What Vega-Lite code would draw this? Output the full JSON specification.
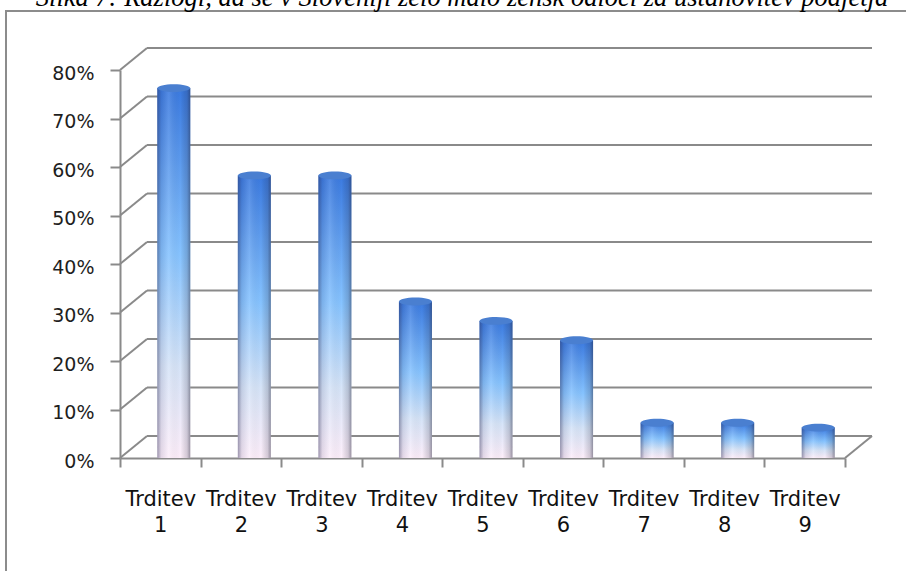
{
  "$schema": "https://vega.github.io/schema/vega-lite/v6.json",
  "autosize": "none",
  "width": 900,
  "height": 560,
  "padding": {"left": 6, "top": 11, "right": 0, "bottom": 0},
  "background": "white",
  "config": {
    "view": {"stroke": "#8c8c8c", "strokeWidth": 2, "strokeDash": [900, 1460, 560]},
    "axis": {"grid": false}
  },
  "title": {
    "text": "Slika 7: Razlogi, da se v Sloveniji zelo malo žensk odloči za ustanovitev podjetja",
    "font": "Liberation Serif",
    "fontStyle": "italic",
    "fontWeight": "normal",
    "fontSize": 26.5,
    "color": "#000000",
    "frame": "group",
    "anchor": "middle",
    "baseline": "alphabetic",
    "offset": -21,
    "dx": 6
  },
  "data": {
    "values": [
      {"c": "Trditev 1", "p": 0.74},
      {"c": "Trditev 2", "p": 0.56},
      {"c": "Trditev 3", "p": 0.56},
      {"c": "Trditev 4", "p": 0.30},
      {"c": "Trditev 5", "p": 0.26},
      {"c": "Trditev 6", "p": 0.22},
      {"c": "Trditev 7", "p": 0.05},
      {"c": "Trditev 8", "p": 0.05},
      {"c": "Trditev 9", "p": 0.04}
    ]
  },
  "resolve": {"scale": {"x": "independent"}, "axis": {"x": "independent"}},
  "layer": [
    {
      "data": {"values": [{"v": 0}, {"v": 0.1}, {"v": 0.2}, {"v": 0.3}, {"v": 0.4}, {"v": 0.5}, {"v": 0.6}, {"v": 0.7}, {"v": 0.8}]},
      "layer": [
        {
          "mark": {"type": "rule", "color": "#8a8a8a", "strokeWidth": 2.2, "xOffset": 27, "x2Offset": 27, "yOffset": -22},
          "encoding": {
            "x": {"datum": 0, "type": "quantitative", "scale": {"domain": [0, 1], "range": [114, 839], "nice": false, "zero": false}, "axis": null},
            "x2": {"datum": 1},
            "y": {"field": "v", "type": "quantitative", "scale": {"domain": [0, 0.8], "range": [447, 59], "nice": false, "zero": true}, "axis": {
              "orient": "left", "offset": -114, "values": [0, 0.1, 0.2, 0.3, 0.4, 0.5, 0.6, 0.7, 0.8], "format": ".0%", "title": null,
              "domainColor": "#8a8a8a", "domainWidth": 2, "tickColor": "#8a8a8a", "tickWidth": 2, "tickSize": 10,
              "labelFont": "DejaVu Sans", "labelFontSize": 19, "labelColor": "#1e1e1e", "labelPadding": 16, "labelOffset": 3
            }}
          }
        },
        {
          "mark": {"type": "rule", "color": "#8a8a8a", "strokeWidth": 2, "x2Offset": 27, "y2Offset": -22},
          "encoding": {
            "x": {"datum": 0, "type": "quantitative", "axis": null},
            "x2": {"datum": 0},
            "y": {"field": "v", "type": "quantitative"},
            "y2": {"field": "v"}
          }
        },
        {
          "transform": [{"filter": "datum.v == 0"}],
          "mark": {"type": "rule", "color": "#8a8a8a", "strokeWidth": 2, "x2Offset": 27, "y2Offset": -22},
          "encoding": {
            "x": {"datum": 1, "type": "quantitative", "axis": null},
            "x2": {"datum": 1},
            "y": {"field": "v", "type": "quantitative"},
            "y2": {"field": "v"}
          }
        }
      ]
    },
    {
      "layer": [
        {
          "mark": {"type": "point", "shape": "M-1,0A1,0.24,0,1,1,1,0A1,0.24,0,1,1,-1,0Z", "size": 1089, "filled": true, "fill": "#eadbe9", "opacity": 1, "strokeWidth": 0, "xOffset": 13.5, "yOffset": -11},
          "encoding": {
            "x": {"field": "c", "type": "nominal", "sort": null, "scale": {"type": "band", "range": [114, 839], "paddingInner": 0, "paddingOuter": 0}, "axis": {
              "orient": "bottom", "offset": -113, "title": null, "labelAngle": 0, "labelExpr": "split(datum.label, ' ')",
              "tickBand": "extent", "domainColor": "#8a8a8a", "domainWidth": 2, "tickColor": "#8a8a8a", "tickWidth": 2, "tickSize": 9,
              "labelFont": "DejaVu Sans", "labelFontSize": 21, "labelColor": "#111111", "labelLineHeight": 26, "labelPadding": 21
            }},
            "y": {"datum": 0, "type": "quantitative"}
          }
        },
        {
          "mark": {"type": "bar", "width": {"band": 0.41}, "xOffset": 13.5, "yOffset": -11,
            "fill": {"gradient": "linear", "x1": 0, "y1": 0, "x2": 0, "y2": 1, "stops": [
              {"offset": 0, "color": "#3b7ae0"},
              {"offset": 0.45, "color": "#86c3ff"},
              {"offset": 0.75, "color": "#d6e4f8"},
              {"offset": 1, "color": "#fdeefa"}
            ]}},
          "encoding": {
            "x": {"field": "c", "type": "nominal", "sort": null},
            "y": {"field": "p", "type": "quantitative"},
            "y2": {"datum": 0}
          }
        },
        {
          "mark": {"type": "bar", "width": {"band": 0.41}, "xOffset": 13.5, "yOffset": -11,
            "fill": {"gradient": "linear", "x1": 0, "y1": 0, "x2": 1, "y2": 0, "stops": [
              {"offset": 0, "color": "rgba(40,40,80,0.45)"},
              {"offset": 0.12, "color": "rgba(40,40,80,0.12)"},
              {"offset": 0.35, "color": "rgba(255,255,255,0.12)"},
              {"offset": 0.7, "color": "rgba(0,0,0,0)"},
              {"offset": 0.9, "color": "rgba(30,30,50,0.18)"},
              {"offset": 1, "color": "rgba(30,30,50,0.45)"}
            ]}},
          "encoding": {
            "x": {"field": "c", "type": "nominal", "sort": null},
            "y": {"field": "p", "type": "quantitative"},
            "y2": {"datum": 0}
          }
        },
        {
          "mark": {"type": "point", "shape": "M-1,0A1,0.24,0,1,1,1,0A1,0.24,0,1,1,-1,0Z", "size": 1089, "filled": true, "fill": "#4a7fd0", "opacity": 1, "strokeWidth": 0, "xOffset": 13.5, "yOffset": -11},
          "encoding": {
            "x": {"field": "c", "type": "nominal", "sort": null},
            "y": {"field": "p", "type": "quantitative"}
          }
        }
      ]
    }
  ]
}
